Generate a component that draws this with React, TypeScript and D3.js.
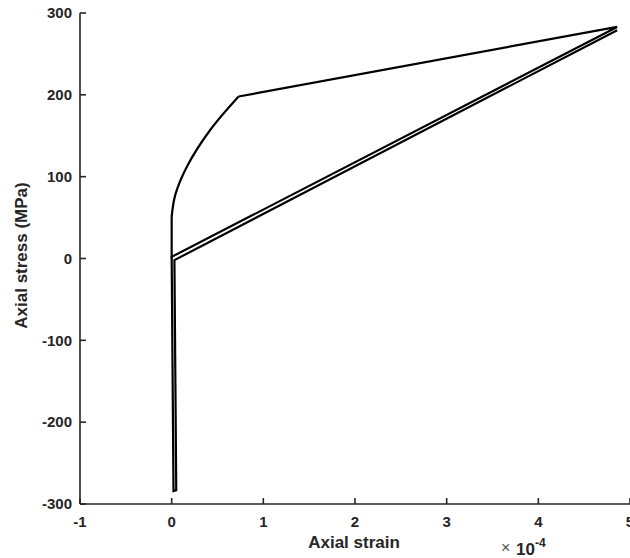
import React from 'react';
import { scaleLinear, line, curveCatmullRom } from 'd3';

const width = 630;
const height = 558;
const margins = { top: 13, bottom: 54, left: 80, right: 0 };

// strain in units of 1e-4, stress in MPa
// initial loading (elastic then plastic curve)
const loadStrain = [0, 0, 0.04, 0.17, 0.42, 0.73];
const loadStress = [0, 51, 78, 113, 157, 198];

// hardening, unload, compression, reload
const cycleStrain = [0.73, 4.86, 0.0, 0.02, 0.05, 0.03, 4.86];
const cycleStress = [198, 283, 2, -284, -283, -2, 279];

const xTicks = [-1, 0, 1, 2, 3, 4, 5];
const yTicks = [-300, -200, -100, 0, 100, 200, 300];

const font = '"Liberation Sans", Arial, Helvetica, sans-serif';
const axisColor = '#262626';

export default function App() {
  const xScale = scaleLinear().domain([-1, 5]).range([margins.left, width - margins.right]);
  const yScale = scaleLinear().domain([-300, 300]).range([height - margins.bottom, margins.top]);

  const pts = loadStrain.map((s, i) => [s, loadStress[i]] as [number, number]);
  const straight = line<[number, number]>()
    .x((d) => xScale(d[0]))
    .y((d) => yScale(d[1]));
  // elastic part is a straight segment, the plastic part is smooth
  const elasticPath = straight(pts.slice(0, 2));
  const plasticPath = straight.curve(curveCatmullRom.alpha(0.5))(pts.slice(1));

  const cyclePath = line<number>()
    .x((d, i) => xScale(cycleStrain[i]))
    .y((d) => yScale(d))(cycleStress);

  const x0 = xScale(-1);
  const y0 = yScale(-300);

  return (
    <svg width={width} height={height} style={{ position: 'absolute', left: 0, top: 0 }}>
      <rect width={width} height={height} fill="white" />
      <path d={elasticPath || ''} fill="none" stroke="black" strokeWidth={2.2} />
      <path d={plasticPath || ''} fill="none" stroke="black" strokeWidth={2.2} />
      <path d={cyclePath || ''} fill="none" stroke="black" strokeWidth={2.2} strokeLinejoin="miter" />

      {/* axes */}
      <line x1={x0} y1={y0} x2={width} y2={y0} stroke={axisColor} strokeWidth={1.6} />
      <line x1={x0} y1={y0} x2={x0} y2={yScale(300)} stroke={axisColor} strokeWidth={1.6} />

      {xTicks.map((t) => (
        <g key={t} transform={`translate(${xScale(t)},0)`}>
          <line y1={y0} y2={y0 - 6} stroke={axisColor} strokeWidth={1.6} />
          <text y={y0 + 23} textAnchor="middle" fontFamily={font} fontWeight="bold" fontSize={15} fill={axisColor}>
            {t}
          </text>
        </g>
      ))}
      {yTicks.map((t) => (
        <g key={t} transform={`translate(0,${yScale(t)})`}>
          <line x1={x0} x2={x0 + 6} stroke={axisColor} strokeWidth={1.6} />
          <text x={x0 - 8} dy="0.35em" textAnchor="end" fontFamily={font} fontWeight="bold" fontSize={15} fill={axisColor}>
            {t}
          </text>
        </g>
      ))}

      <text x={354} y={548} textAnchor="middle" fontFamily={font} fontWeight="bold" fontSize={17} fill={axisColor}>
        Axial strain
      </text>
      <text
        transform={`translate(27,${yScale(0) - 3}) rotate(-90)`}
        textAnchor="middle"
        fontFamily={font}
        fontWeight="bold"
        fontSize={17}
        fill={axisColor}
      >
        Axial stress (MPa)
      </text>

      <text x={501} y={553} fontFamily={font} fontSize={16} fill="#555">×</text>
      <text x={516} y={555} fontFamily={font} fontWeight="bold" fontSize={17} fill={axisColor}>
        10
        <tspan dy={-8} fontSize={12}>-4</tspan>
      </text>
    </svg>
  );
}
